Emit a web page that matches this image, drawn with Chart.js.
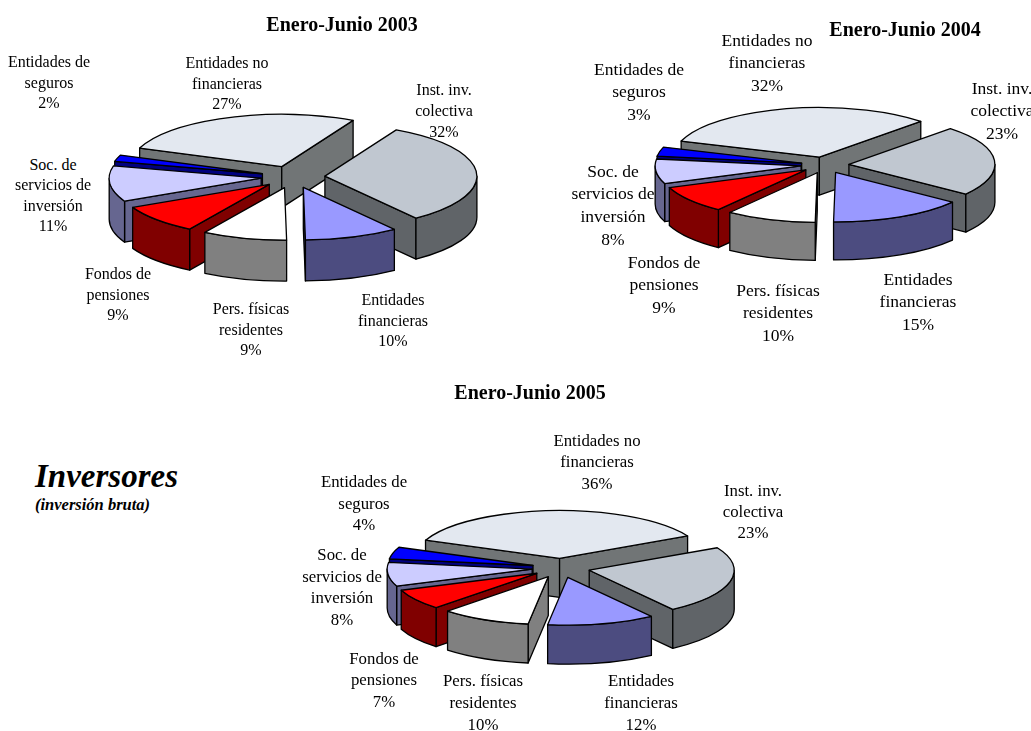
<!DOCTYPE html>
<html><head><meta charset="utf-8">
<script src="https://cdn.jsdelivr.net/npm/chart.js@4"></script>
<style>
html,body{margin:0;padding:0;background:#fff;width:1031px;height:731px;overflow:hidden}
canvas{position:absolute}
.t{position:absolute;font-family:"Liberation Serif",serif;color:#000;white-space:nowrap;text-align:center;transform:translate(-50%,-50%);line-height:1}
</style></head><body>
<script>
const categories=["Inst. inv. colectiva","Entidades financieras","Pers. físicas residentes","Fondos de pensiones","Soc. de servicios de inversión","Entidades de seguros","Entidades no financieras"];
const values2003=[32,10,9,9,11,2,27];
const values2004=[23,15,10,9,8,3,32];
const values2005=[23,12,10,7,8,4,36];
const chartTitles=["Enero-Junio 2003","Enero-Junio 2004","Enero-Junio 2005"];
const topColors=["#c0c7d0","#9999ff","#ffffff","#ff0000","#ccccff","#0000ff","#e3e8f0"];
const wallColors=["#606468","#4c4c80","#808080","#800000","#666690","#000080","#717576"];

// layout of each pie: centre, radius, start rotation, explosion distance, flattening, wall depth, font size
const pieLayouts=[
 {cx:293,cy:177,r:152,rot:28,ex:32,k:0.345,d:41,fs:16,
  title:[342,24],
  labels:[[444,[90,111,132]],[393,[300,321,341]],[251,[309,330,350]],[118,[274,295,315]],[53,[165,185,206,226]],[49,[62,83,103]],[227,[63,84,104]]]},
 {cx:825,cy:165,r:146,rot:44,ex:24,k:0.34,d:38,fs:17.5,
  title:[905,29],
  labels:[[1002,[89,111,134]],[918,[280,302,325]],[778,[291,313,336]],[664,[263,285,308]],[613,[172,194,217,240]],[639,[70,92,115]],[767,[41,63,86]]]},
 {cx:561,cy:568,r:145,rot:62,ex:29,k:0.33,d:39,fs:16.8,
  title:[530,392],
  labels:[[753,[491,512,533]],[641,[681,703,725]],[483,[681,703,725]],[384,[659,680,702]],[342,[555,577,598,620]],[364,[482,504,525]],[597,[441,462,484]]]}
];
const labelLines=[["Inst. inv.","colectiva"],["Entidades","financieras"],["Pers. físicas","residentes"],["Fondos de","pensiones"],["Soc. de","servicios de","inversión"],["Entidades de","seguros"],["Entidades no","financieras"]];

const TAU=Math.PI*2;
const pie3d={
 id:'pie3d',
 beforeDatasetsDraw(chart){
  const L=chart.options.plugins.pie3d.layout, ctx=chart.ctx;
  const meta=chart.getDatasetMeta(0);
  const items=meta.data.map((arc,i)=>{
    const p=arc.getProps(['x','y','startAngle','endAngle','outerRadius'],true);
    const mid=(p.startAngle+p.endAngle)/2;
    return {arc,i,p,mid,dx:Math.cos(mid)*L.ex,dy:Math.sin(mid)*L.ex};
  }).sort((a,b)=>Math.sin(a.mid)-Math.sin(b.mid));
  ctx.save();
  ctx.lineJoin='round';ctx.lineWidth=1.3;ctx.strokeStyle='#000';
  for(const it of items){
    const {p,dx,dy,i}=it, X=p.x+dx, Y=p.y+dy*L.k, R=p.outerRadius, RY=R*L.k;
    const paint=()=>{ctx.fillStyle=wallColors[i];ctx.fill();ctx.stroke();};
    const radial=a=>{
      ctx.beginPath();ctx.moveTo(X,Y);ctx.lineTo(X+R*Math.cos(a),Y+RY*Math.sin(a));
      ctx.lineTo(X+R*Math.cos(a),Y+RY*Math.sin(a)+L.d);ctx.lineTo(X,Y+L.d);ctx.closePath();paint();
    };
    if(Math.sin(p.startAngle-Math.PI/2)>0) radial(p.startAngle);
    if(Math.sin(p.endAngle+Math.PI/2)>0) radial(p.endAngle);
    for(let n=-1;n<=1;n++){
      const a0=Math.max(p.startAngle,n*TAU), a1=Math.min(p.endAngle,n*TAU+Math.PI);
      if(a1>a0){
        ctx.beginPath();ctx.ellipse(X,Y,R,RY,0,a0,a1);ctx.ellipse(X,Y+L.d,R,RY,0,a1,a0,true);ctx.closePath();paint();
      }
    }
    // top face: the library's own arc element, under a flattening transform
    ctx.save();
    ctx.translate(p.x,p.y);ctx.scale(1,L.k);ctx.translate(-p.x+dx,-p.y+dy);
    it.arc.draw(ctx);
    ctx.restore();
    ctx.beginPath();ctx.moveTo(X,Y);ctx.ellipse(X,Y,R,RY,0,p.startAngle,p.endAngle);ctx.closePath();ctx.stroke();
  }
  ctx.restore();
  return false;
 }
};
const SIZE=420;
[values2003,values2004,values2005].forEach((vals,idx)=>{
  const L=pieLayouts[idx];
  const c=document.createElement('canvas');
  c.width=SIZE;c.height=SIZE;c.style.left=(L.cx-SIZE/2)+'px';c.style.top=(L.cy-SIZE/2)+'px';
  c.style.width=SIZE+'px';c.style.height=SIZE+'px';
  document.body.appendChild(c);
  new Chart(c,{type:'pie',plugins:[pie3d],data:{labels:categories,datasets:[{data:vals,backgroundColor:topColors,borderWidth:0}]},
   options:{responsive:false,animation:false,radius:L.r,rotation:L.rot,
    plugins:{legend:{display:false},tooltip:{enabled:false},title:{display:false},pie3d:{layout:L}}}});
  const addText=(txt,x,y,fs,style)=>{
    const d=document.createElement('div');d.className='t';d.textContent=txt;
    d.style.left=x+'px';d.style.top=y+'px';d.style.fontSize=fs+'px';
    if(style)d.style.cssText+=style;document.body.appendChild(d);
  };
  addText(chartTitles[idx],L.title[0],L.title[1],20,'font-weight:bold;');
  L.labels.forEach((lab,i)=>{
    const lines=[...labelLines[i],vals[i]+'%'];
    lines.forEach((s,j)=>addText(s,lab[0],lab[1][j],L.fs));
  });
});
const h=(txt,x,y,fs)=>{const d=document.createElement('div');d.className='t';d.textContent=txt;
 d.style.cssText+=`left:${x}px;top:${y}px;font-size:${fs}px;font-weight:bold;font-style:italic;transform:translate(0,-50%);`;document.body.appendChild(d);};
h("Inversores",35,476,33);
h("(inversión bruta)",35,505,16.5);
</script>
</body></html>
